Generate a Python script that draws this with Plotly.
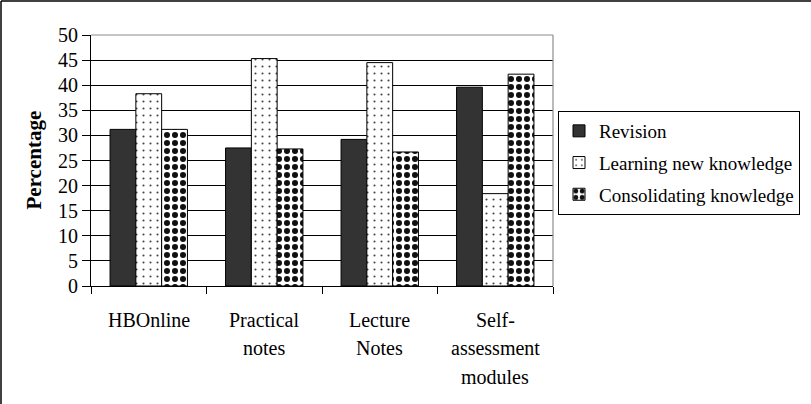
import plotly.graph_objects as go

categories = ["HBOnline", "Practical<br>notes", "Lecture<br>Notes", "Self-<br>assessment<br>modules"]
revision = [31.2, 27.5, 29.2, 39.6]
learning = [38.3, 45.3, 44.5, 18.4]
consolidating = [31.2, 27.3, 26.7, 42.2]
series_names = ["Revision", "Learning new knowledge", "Consolidating knowledge"]
y_ticks = [0, 5, 10, 15, 20, 25, 30, 35, 40, 45, 50]

W, H = 811, 404
L, R, T, B = 91, 258, 35, 118
PW, PH = W - L - R, H - T - B
FONT = "Liberation Serif"

fig = go.Figure()
fig.add_trace(go.Bar(
    name=series_names[0], x=categories, y=revision, legendgroup="a",
    marker=dict(color="#333333", line=dict(color="black", width=1)),
))
fig.add_trace(go.Bar(
    name=series_names[1], x=categories, y=learning, legendgroup="b",
    marker=dict(color="white", line=dict(color="black", width=1),
                pattern=dict(shape=".", size=7, solidity=0.07,
                             fgcolor="#444444", bgcolor="white", fillmode="replace")),
))
fig.add_trace(go.Bar(
    name=series_names[2], x=categories, y=consolidating, legendgroup="c",
    marker=dict(color="white", line=dict(color="black", width=1),
                pattern=dict(shape=".", size=8, solidity=0.45,
                             fgcolor="#111111", bgcolor="white", fillmode="replace")),
))

annotations = []
for cat in categories:
    for i, line in enumerate(cat.split("<br>")):
        annotations.append(dict(
            x=cat, xref="x", y=0, yref="paper", yanchor="middle",
            yshift=-34 - 28.3 * i, text=line, showarrow=False,
            font=dict(family=FONT, size=20, color="black"),
        ))
annotations.append(dict(
    x=(33 - L) / PW, xref="paper", y=0.5, yref="paper", text="<b>Percentage</b>",
    textangle=-90, showarrow=False, xanchor="center", yanchor="middle",
    font=dict(family=FONT, size=21, color="black"),
))

def px_x(p):
    return (p - L) / PW

def px_y(p):
    return (H - B - p) / PH

shapes = [
    dict(type="line", xref="paper", yref="paper", x0=0, x1=1, y0=1, y1=1,
         line=dict(color="#8c8c8c", width=1.2), layer="above"),
    dict(type="line", xref="paper", yref="paper", x0=1, x1=1, y0=0, y1=1,
         line=dict(color="#8c8c8c", width=1.2), layer="above"),
    dict(type="line", xref="paper", yref="paper", x0=px_x(1), x1=px_x(1), y0=px_y(1), y1=px_y(H + 5),
         line=dict(color="black", width=1.5)),
    dict(type="line", xref="paper", yref="paper", x0=px_x(1), x1=px_x(W + 5), y0=px_y(1), y1=px_y(1),
         line=dict(color="black", width=1.5)),
]

fig.update_layout(
    width=W, height=H,
    margin=dict(l=L, r=R, t=T, b=B, pad=0, autoexpand=False),
    paper_bgcolor="white", plot_bgcolor="white",
    barmode="group", bargap=0.33, bargroupgap=0,
    font=dict(family=FONT, size=20, color="black"),
    showlegend=True,
    legend=dict(
        x=px_x(558), y=px_y(111), xanchor="left", yanchor="top",
        bordercolor="black", borderwidth=1, bgcolor="white",
        font=dict(family=FONT, size=19, color="black"),
        tracegroupgap=4, traceorder="grouped", itemwidth=30,
    ),
    annotations=annotations,
    shapes=shapes,
)
fig.update_xaxes(
    showline=True, linecolor="black", linewidth=1,
    ticks="outside", tickson="boundaries", ticklen=7, tickcolor="black",
    showticklabels=False, showgrid=False,
)
fig.update_yaxes(
    range=[0, 50], tickvals=y_ticks, ticktext=[str(v) for v in y_ticks],
    showline=True, linecolor="black", linewidth=1,
    ticks="outside", ticklen=8, tickcolor="black",
    showgrid=True, gridcolor="black", gridwidth=1, zeroline=False,
    tickfont=dict(family=FONT, size=20, color="black"),
)

fig.write_html("out.html")
